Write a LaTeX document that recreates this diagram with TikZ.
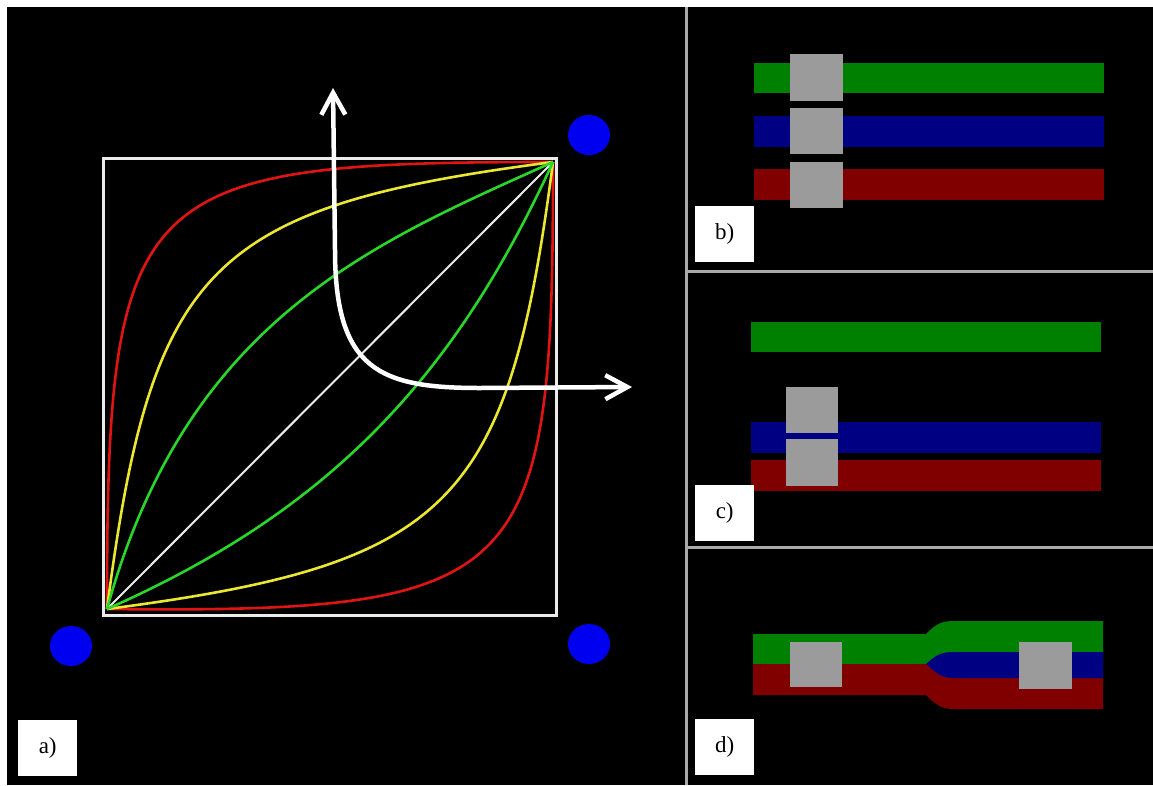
\documentclass[tikz,border=0pt]{standalone}
\usepackage{fontspec}
\setmainfont{Liberation Serif}
\usetikzlibrary{arrows.meta}
\definecolor{sepgray}{RGB}{170,170,170}
\definecolor{dgreen}{RGB}{0,128,0}
\definecolor{dblue}{RGB}{0,0,130}
\definecolor{dred}{RGB}{128,0,0}
\definecolor{boxgray}{RGB}{155,155,155}
\definecolor{cred}{RGB}{225,20,20}
\definecolor{cyellow}{RGB}{235,230,50}
\definecolor{cgreen}{RGB}{40,215,40}
\definecolor{dotblue}{RGB}{0,0,240}
\definecolor{lwhite}{RGB}{235,235,235}
\begin{document}
\begin{tikzpicture}[x=1pt,y=-1pt,
  lab/.style={fill=white,minimum width=59pt,minimum height=56pt,inner sep=0pt,
              font=\fontsize{23}{25}\selectfont,anchor=north west},
  curve/.style={line width=2.6pt},
  sepline/.style={sepgray,line width=3pt},
  dot/.style={fill=dotblue},
  slider/.style={fill=boxgray},
  bigarrow/.style={white,line width=4.5pt,
     {Straight Barb[length=22pt,width=24pt]}-{Straight Barb[length=22pt,width=24pt]}}
]
\useasboundingbox (0,0) rectangle (1153,785);
\fill[white] (0,0) rectangle (1153,785);
\fill[black] (7,7) rectangle (1153,785);

% separators
\draw[sepline] (686.5,7) -- (686.5,785);
\draw[sepline] (686.5,271) -- (1153,271);
\draw[sepline] (686.5,547.5) -- (1153,547.5);

% ---------- panel a ----------
\draw[lwhite,line width=3pt] (103.5,158.5) rectangle (556.5,615);
\begin{scope}[shift={(107,609)},x=446pt,y=447pt]
  \draw[cred,curve] (0,0) .. controls (0,0.944) and (0.056,1) .. (1,1);
  \draw[cred,curve] (0,0) .. controls (0.95,-0.01) and (1,0.06) .. (1,1);
  \draw[cyellow,curve] (0,0) .. controls (0.1,0.77) and (0.23,0.9) .. (1,1);
  \draw[cyellow,curve] (0,0) .. controls (0.77,0.1) and (0.9,0.23) .. (1,1);
  \draw[lwhite,line width=2pt] (0,0) -- (1,1);
  \draw[cgreen,curve] (0,0) .. controls (0.18,0.65) and (0.6,0.82) .. (1,1);
  \draw[cgreen,curve] (0,0) .. controls (0.5,0.22) and (0.78,0.52) .. (1,1);
\end{scope}
\fill[dot] (71,646) ellipse [x radius=21pt, y radius=20pt];
\fill[dot] (589,135) ellipse [x radius=21pt, y radius=20pt];
\fill[dot] (589,644) ellipse [x radius=21pt, y radius=20pt];
\draw[bigarrow] (333,88) -- (335,250) .. controls (335,370) and (380,388) .. (480,388) -- (632,387);
\node[lab] (la) at (18,720) {a)};

% ---------- panel b ----------
\fill[dgreen] (754,63) rectangle (1104,93);
\fill[dblue] (754,116) rectangle (1104,147);
\fill[dred] (754,169) rectangle (1104,200);
\fill[slider] (790,54) rectangle (843,101);
\fill[slider] (790,108) rectangle (843,154);
\fill[slider] (790,162) rectangle (843,208);
\node[lab] (lb) at (695,206) {b)};

% ---------- panel c ----------
\fill[dgreen] (751,322) rectangle (1101,352);
\fill[dblue] (751,422) rectangle (1101,453);
\fill[dred] (751,460) rectangle (1101,491);
\fill[slider] (786,387) rectangle (838,433);
\fill[slider] (786,439) rectangle (838,486);
\node[lab] (lc) at (695,485) {c)};

% ---------- panel d ----------
\fill[dgreen] (753,634) -- (926,634) .. controls (937,623) and (942,621) .. (955,621)
   -- (1103,621) -- (1103,665) -- (753,665) -- cycle;
\fill[dred] (753,664) -- (1103,664) -- (1103,709) -- (955,709)
   .. controls (942,709) and (937,706) .. (926,695) -- (753,695) -- cycle;
\fill[dblue] (926,664) .. controls (937,654) and (942,652) .. (955,652) -- (1103,652)
   -- (1103,678) -- (955,678) .. controls (942,678) and (937,674) .. (926,664) -- cycle;
\fill[slider] (790,642) rectangle (842,687);
\fill[slider] (1019,642) rectangle (1072,689);
\node[lab] (ld) at (695,719) {d)};
\end{tikzpicture}
\end{document}
